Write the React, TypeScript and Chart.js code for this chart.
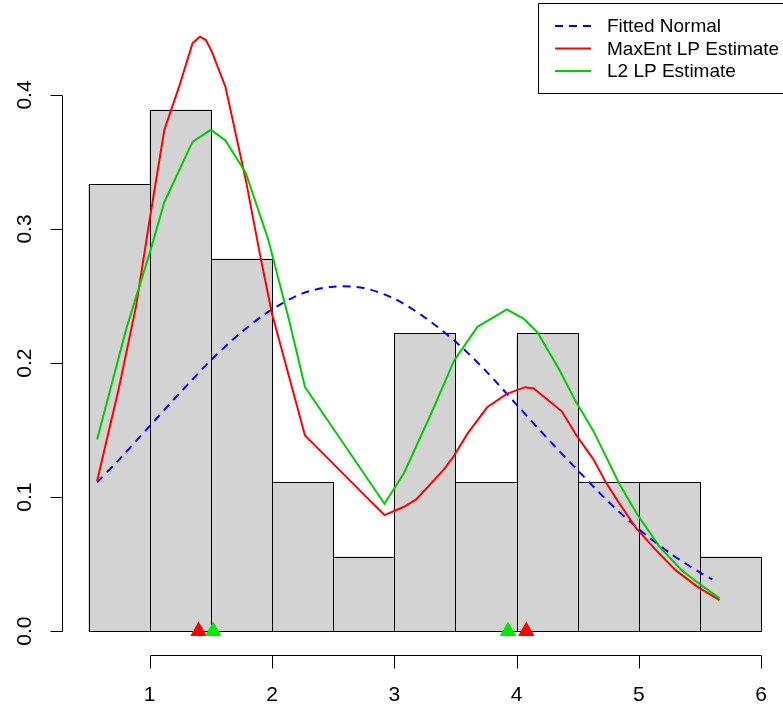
import React, { useEffect, useRef } from 'react';
import { Chart, registerables } from 'chart.js';
Chart.register(...registerables);

// Histogram (density) bins
const binCenters = [0.75, 1.25, 1.75, 2.25, 2.75, 3.25, 3.75, 4.25, 4.75, 5.25, 5.75];
const binDensity = [0.3333, 0.3889, 0.2778, 0.1111, 0.0556, 0.2222, 0.1111, 0.2222, 0.1111, 0.1111, 0.0556];

// Fitted normal density
const normalX = [0.57, 0.75, 1.0, 1.25, 1.5, 1.75, 2.0, 2.25, 2.5, 2.75, 3.0, 3.25, 3.5, 3.75, 4.0, 4.25, 4.5, 4.75, 5.0, 5.25, 5.5, 5.6];
const normalY = [0.111, 0.128, 0.153, 0.178, 0.202, 0.223, 0.240, 0.252, 0.257, 0.256, 0.248, 0.234, 0.216, 0.194, 0.169, 0.144, 0.120, 0.0966, 0.0761, 0.0584, 0.0437, 0.0386];

// MaxEnt LP estimate
const maxentX = [0.57, 0.75, 0.89, 1.0, 1.12, 1.24, 1.35, 1.41, 1.46, 1.51, 1.62, 1.785, 1.906, 2.0, 2.27, 2.5, 2.75, 2.92, 3.08, 3.18, 3.41, 3.49, 3.6, 3.76, 3.92, 4.07, 4.14, 4.37, 4.49, 4.63, 4.73, 4.84, 4.98, 5.14, 5.3, 5.48, 5.66];
const maxentY = [0.112, 0.182, 0.243, 0.307, 0.374, 0.406, 0.4385, 0.4435, 0.441, 0.432, 0.406, 0.337, 0.279, 0.237, 0.146, 0.125, 0.102, 0.0866, 0.0928, 0.0983, 0.121, 0.131, 0.1475, 0.167, 0.177, 0.182, 0.181, 0.164, 0.146, 0.128, 0.111, 0.0953, 0.0766, 0.0604, 0.0455, 0.033, 0.0231];

// L2 LP estimate
const l2X = [0.57, 0.81, 1.0, 1.12, 1.35, 1.5, 1.62, 1.785, 1.97, 2.14, 2.27, 2.54, 2.92, 3.08, 3.16, 3.3, 3.49, 3.68, 3.92, 4.06, 4.17, 4.35, 4.48, 4.63, 4.84, 4.99, 5.17, 5.35, 5.49, 5.66];
const l2Y = [0.143, 0.226, 0.282, 0.32, 0.365, 0.374, 0.366, 0.342, 0.292, 0.232, 0.182, 0.146, 0.095, 0.118, 0.134, 0.162, 0.202, 0.227, 0.24, 0.233, 0.223, 0.195, 0.172, 0.149, 0.11, 0.0866, 0.0629, 0.0455, 0.0356, 0.0244];

// Mode markers
const maxentModes = [1.4, 4.08];
const l2Modes = [1.52, 3.93];

const xTicks = [1, 2, 3, 4, 5, 6];
const yTicks = [0, 0.1, 0.2, 0.3, 0.4];
const yTickLabels = ['0.0', '0.1', '0.2', '0.3', '0.4'];
const legendLabels = ['Fitted Normal', 'MaxEnt LP Estimate', 'L2 LP Estimate'];

const W = 783;
const H = 709;
const FONT = '"Liberation Sans", Arial, Helvetica, sans-serif';
const GREEN = 'rgb(0,205,0)';

const zip = (xs: number[], ys: number[]) => xs.map((x, i) => ({ x, y: ys[i] }));

export default function App() {
  const ref = useRef<HTMLCanvasElement>(null);

  useEffect(() => {
    document.body.style.margin = '0';
    const canvas = ref.current;
    if (!canvas) return;

    const rPlugin = {
      id: 'rStyle',
      afterDatasetDraw(chart: any, args: any) {
        if (args.index !== 0) return;
        const c = chart.ctx as CanvasRenderingContext2D;
        const meta = chart.getDatasetMeta(0);
        c.save();
        c.strokeStyle = '#000';
        c.lineWidth = 1;
        meta.data.forEach((bar: any) => {
          const l = Math.round(bar.x - bar.width / 2) + 0.5;
          const r = Math.round(bar.x + bar.width / 2) + 0.5;
          const t = Math.round(bar.y) + 0.5;
          const b = Math.round(bar.base) + 0.5;
          c.strokeRect(l, t, r - l, b - t);
        });
        c.restore();
      },
      afterDraw(chart: any) {
        const c = chart.ctx as CanvasRenderingContext2D;
        const xs = chart.scales.x;
        const ys = chart.scales.y;
        const area = chart.chartArea;
        c.save();
        c.strokeStyle = '#000';
        c.fillStyle = '#000';
        c.lineWidth = 1;

        // x axis
        const ax = Math.round(area.bottom) + 0.5;
        c.beginPath();
        c.moveTo(Math.round(xs.getPixelForValue(xTicks[0])) + 0.5, ax);
        c.lineTo(Math.round(xs.getPixelForValue(xTicks[xTicks.length - 1])) + 0.5, ax);
        xTicks.forEach((t) => {
          const px = Math.round(xs.getPixelForValue(t)) + 0.5;
          c.moveTo(px, ax);
          c.lineTo(px, ax + 13);
        });
        c.stroke();
        c.font = `21px ${FONT}`;
        c.textAlign = 'center';
        c.textBaseline = 'middle';
        xTicks.forEach((t) => {
          c.fillText(String(t), xs.getPixelForValue(t), ax + 40);
        });

        // y axis
        const ay = Math.round(area.left) + 0.5;
        c.beginPath();
        c.moveTo(ay, Math.round(ys.getPixelForValue(yTicks[0])) + 0.5);
        c.lineTo(ay, Math.round(ys.getPixelForValue(yTicks[yTicks.length - 1])) + 0.5);
        yTicks.forEach((t) => {
          const py = Math.round(ys.getPixelForValue(t)) + 0.5;
          c.moveTo(ay, py);
          c.lineTo(ay - 12, py);
        });
        c.stroke();
        yTicks.forEach((t, i) => {
          c.save();
          c.translate(ay - 37, ys.getPixelForValue(t));
          c.rotate(-Math.PI / 2);
          c.fillText(yTickLabels[i], 0, 0);
          c.restore();
        });

        // legend
        const lx = 538.5;
        const ly = 3.5;
        c.beginPath();
        c.rect(lx, ly, 260, 90);
        c.fillStyle = '#fff';
        c.fill();
        c.stroke();
        const rows = [26, 48.5, 71];
        const colors = ['#0000ff', '#ff0000', GREEN];
        rows.forEach((ry, i) => {
          c.beginPath();
          c.strokeStyle = colors[i];
          c.lineWidth = 2;
          c.setLineDash(i === 0 ? [8, 6] : []);
          c.moveTo(555, ry);
          c.lineTo(591, ry);
          c.stroke();
        });
        c.setLineDash([]);
        c.fillStyle = '#000';
        c.font = `19px ${FONT}`;
        c.textAlign = 'left';
        c.textBaseline = 'middle';
        rows.forEach((ry, i) => c.fillText(legendLabels[i], 607, ry + 1));
        c.restore();
      },
    };

    const chart = new Chart(canvas, {
      type: 'line',
      data: {
        datasets: [
          {
            type: 'bar',
            data: zip(binCenters, binDensity),
            backgroundColor: '#d3d3d3',
            borderWidth: 0,
            barPercentage: 1,
            categoryPercentage: 1,
            order: 10,
          } as any,
          {
            type: 'line',
            data: zip(normalX, normalY),
            borderColor: '#0000ff',
            borderWidth: 2,
            borderDash: [8, 6],
            pointRadius: 0,
            tension: 0.3,
            fill: false,
            order: 5,
          },
          {
            type: 'line',
            data: zip(maxentX, maxentY),
            borderColor: '#ff0000',
            borderWidth: 2,
            pointRadius: 0,
            tension: 0,
            fill: false,
            order: 4,
          },
          {
            type: 'line',
            data: zip(l2X, l2Y),
            borderColor: GREEN,
            borderWidth: 2,
            pointRadius: 0,
            tension: 0,
            fill: false,
            order: 3,
          },
          {
            type: 'line',
            data: maxentModes.map((x) => ({ x, y: 0 })),
            showLine: false,
            pointStyle: 'triangle',
            pointRadius: 9.6,
            pointBackgroundColor: '#ff0000',
            pointBorderWidth: 0,
            order: 2,
          },
          {
            type: 'line',
            data: l2Modes.map((x) => ({ x, y: 0 })),
            showLine: false,
            pointStyle: 'triangle',
            pointRadius: 9.6,
            pointBackgroundColor: 'rgb(0,235,0)',
            pointBorderWidth: 0,
            order: 1,
          },
        ],
      },
      options: {
        responsive: false,
        animation: false,
        devicePixelRatio: 1,
        layout: { padding: { left: 62, right: W - 778.3, top: 11.6, bottom: H - 655 } },
        plugins: { legend: { display: false }, tooltip: { enabled: false } },
        scales: {
          x: { type: 'linear', min: 0.283, max: 6.1, offset: false, display: false },
          y: { type: 'linear', min: -0.0178, max: 0.4622, display: false },
        },
      },
      plugins: [rPlugin],
    } as any);

    return () => chart.destroy();
  }, []);

  return (
    <div style={{ position: 'fixed', left: 0, top: 0, width: W, height: H, background: '#fff' }}>
      <canvas ref={ref} width={W} height={H} style={{ width: W, height: H, display: 'block' }} />
    </div>
  );
}
